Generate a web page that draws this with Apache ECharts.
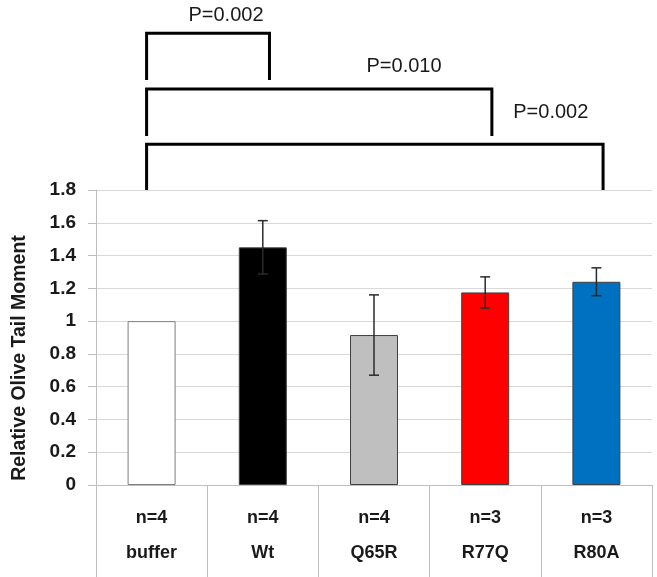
<!DOCTYPE html>
<html>
<head>
<meta charset="utf-8">
<script src="https://cdn.jsdelivr.net/npm/echarts@6/dist/echarts.min.js"></script>
<style>
html,body{margin:0;padding:0;background:#fff;}
#chart{width:657px;height:577px;}
</style>
</head>
<body>
<div id="chart"></div>
<script>
// ---- data ----
var categories = ['buffer', 'Wt', 'Q65R', 'R77Q', 'R80A'];
var nLabels = ['n=4', 'n=4', 'n=4', 'n=3', 'n=3'];
var values = [1.0, 1.45, 0.915, 1.175, 1.24];
var errors = [0, 0.163, 0.245, 0.095, 0.085];
var barColors = ['#ffffff', '#000000', '#bfbfbf', '#ff0000', '#0070c0'];
var yTicks = [0, 0.2, 0.4, 0.6, 0.8, 1, 1.2, 1.4, 1.6, 1.8];
// significance brackets: [fromIndex, toIndex, topValue, bottomValue]
var brackets = [
  [0, 1, 2.756, 2.471],
  [0, 3, 2.416, 2.129],
  [0, 4, 2.079, 1.8]
];
var pLabels = ['P=0.002', 'P=0.010', 'P=0.002'];
// label anchor in category units (band fraction) and value units
var pLabelPos = [[0.669, 2.863], [2.27, 2.556], [3.59, 2.27]];

var chart = echarts.init(document.getElementById('chart'), null, {renderer: 'canvas'});
var FONT = "'Liberation Sans', Arial, sans-serif";

var option = {
  animation: false,
  backgroundColor: '#ffffff',
  grid: {left: 96, right: 5, top: 190, bottom: 92, containLabel: false, outerBoundsMode: 'none'},
  xAxis: {
    type: 'category',
    data: categories,
    axisLine: {show: true, lineStyle: {color: '#bfbfbf', width: 1}},
    axisTick: {show: true, length: 92, interval: 0, lineStyle: {color: '#bfbfbf', width: 1}},
    axisLabel: {
      interval: 0,
      margin: 16,
      formatter: function (v, i) { return '{n|' + nLabels[i] + '}\n{c|' + v + '}'; },
      rich: {
        n: {fontFamily: FONT, fontWeight: 'bold', fontSize: 18, color: '#1a1a1a', lineHeight: 35},
        c: {fontFamily: FONT, fontWeight: 'bold', fontSize: 18, color: '#1a1a1a', lineHeight: 35}
      }
    },
    splitLine: {show: false}
  },
  yAxis: {
    type: 'value',
    min: 0,
    max: 1.8,
    interval: 0.2,
    name: 'Relative Olive Tail Moment',
    nameLocation: 'middle',
    nameRotate: 90,
    nameGap: 66,
    nameTextStyle: {fontFamily: FONT, fontWeight: 'bold', fontSize: 19.5, color: '#1a1a1a', padding: [0, 41, 0, 0]},
    axisLine: {show: true, lineStyle: {color: '#bfbfbf', width: 1}},
    axisTick: {show: true, length: 8, lineStyle: {color: '#bfbfbf'}},
    axisLabel: {
      margin: 20,
      fontFamily: FONT, fontWeight: 'bold', fontSize: 19, color: '#1a1a1a',
      formatter: function (v) {
        for (var k = 0; k < yTicks.length; k++) {
          if (Math.abs(yTicks[k] - v) < 1e-6) return String(yTicks[k]);
        }
        return '';
      }
    },
    splitLine: {show: true, lineStyle: {color: '#d9d9d9', width: 1}}
  },
  series: [
    {
      type: 'bar',
      barWidth: 48,
      data: values.map(function (v, i) {
        return {
          value: v,
          itemStyle: {
            color: barColors[i],
            borderColor: i === 0 ? '#7f7f7f' : '#404040',
            borderWidth: 1
          }
        };
      }),
      z: 2
    },
    {
      type: 'custom',
      z: 3,
      data: values.map(function (v, i) { return [i, v, errors[i]]; }),
      renderItem: function (params, api) {
        var i = api.value(0), v = api.value(1), e = api.value(2);
        if (!e) return null;
        var top = api.coord([i, v + e]);
        var bot = api.coord([i, v - e]);
        var half = 5;
        var st = {stroke: '#2b2b2b', lineWidth: 1.5};
        return {
          type: 'group',
          children: [
            {type: 'line', shape: {x1: top[0], y1: top[1], x2: bot[0], y2: bot[1]}, style: st},
            {type: 'line', shape: {x1: top[0] - half, y1: top[1], x2: top[0] + half, y2: top[1]}, style: st},
            {type: 'line', shape: {x1: bot[0] - half, y1: bot[1], x2: bot[0] + half, y2: bot[1]}, style: st}
          ]
        };
      }
    },
    {
      type: 'custom',
      z: 4,
      clip: false,
      silent: true,
      data: brackets.map(function (b, k) { return [b[0], b[1], b[2], b[3], k]; }),
      renderItem: function (params, api) {
        var a = api.value(0), b = api.value(1), yt = api.value(2), yb = api.value(3), k = api.value(4);
        var band = api.size([1, 0])[0];
        var x0 = api.coord([0, 0])[0] - band / 2;
        var xa = api.coord([a, yt])[0] - band * 0.045;
        var xb = api.coord([b, yt])[0] + band * 0.06;
        var pt = api.coord([a, yt])[1];
        var pb = api.coord([a, yb])[1];
        var lp = pLabelPos[k];
        var lx = x0 + (lp[0] + 0.5) * band;
        var ly = api.coord([0, lp[1]])[1];
        return {
          type: 'group',
          children: [
            {type: 'polyline', shape: {points: [[xa, pb], [xa, pt], [xb, pt], [xb, pb]]},
             style: {stroke: '#000000', lineWidth: 3, fill: null, lineJoin: 'miter'}},
            {type: 'text', x: lx, y: ly,
             style: {text: pLabels[k], fontFamily: FONT, fontSize: 20, fill: '#1a1a1a', align: 'center', verticalAlign: 'middle'}}
          ]
        };
      }
    }
  ]
};
chart.setOption(option);
</script>
</body>
</html>
